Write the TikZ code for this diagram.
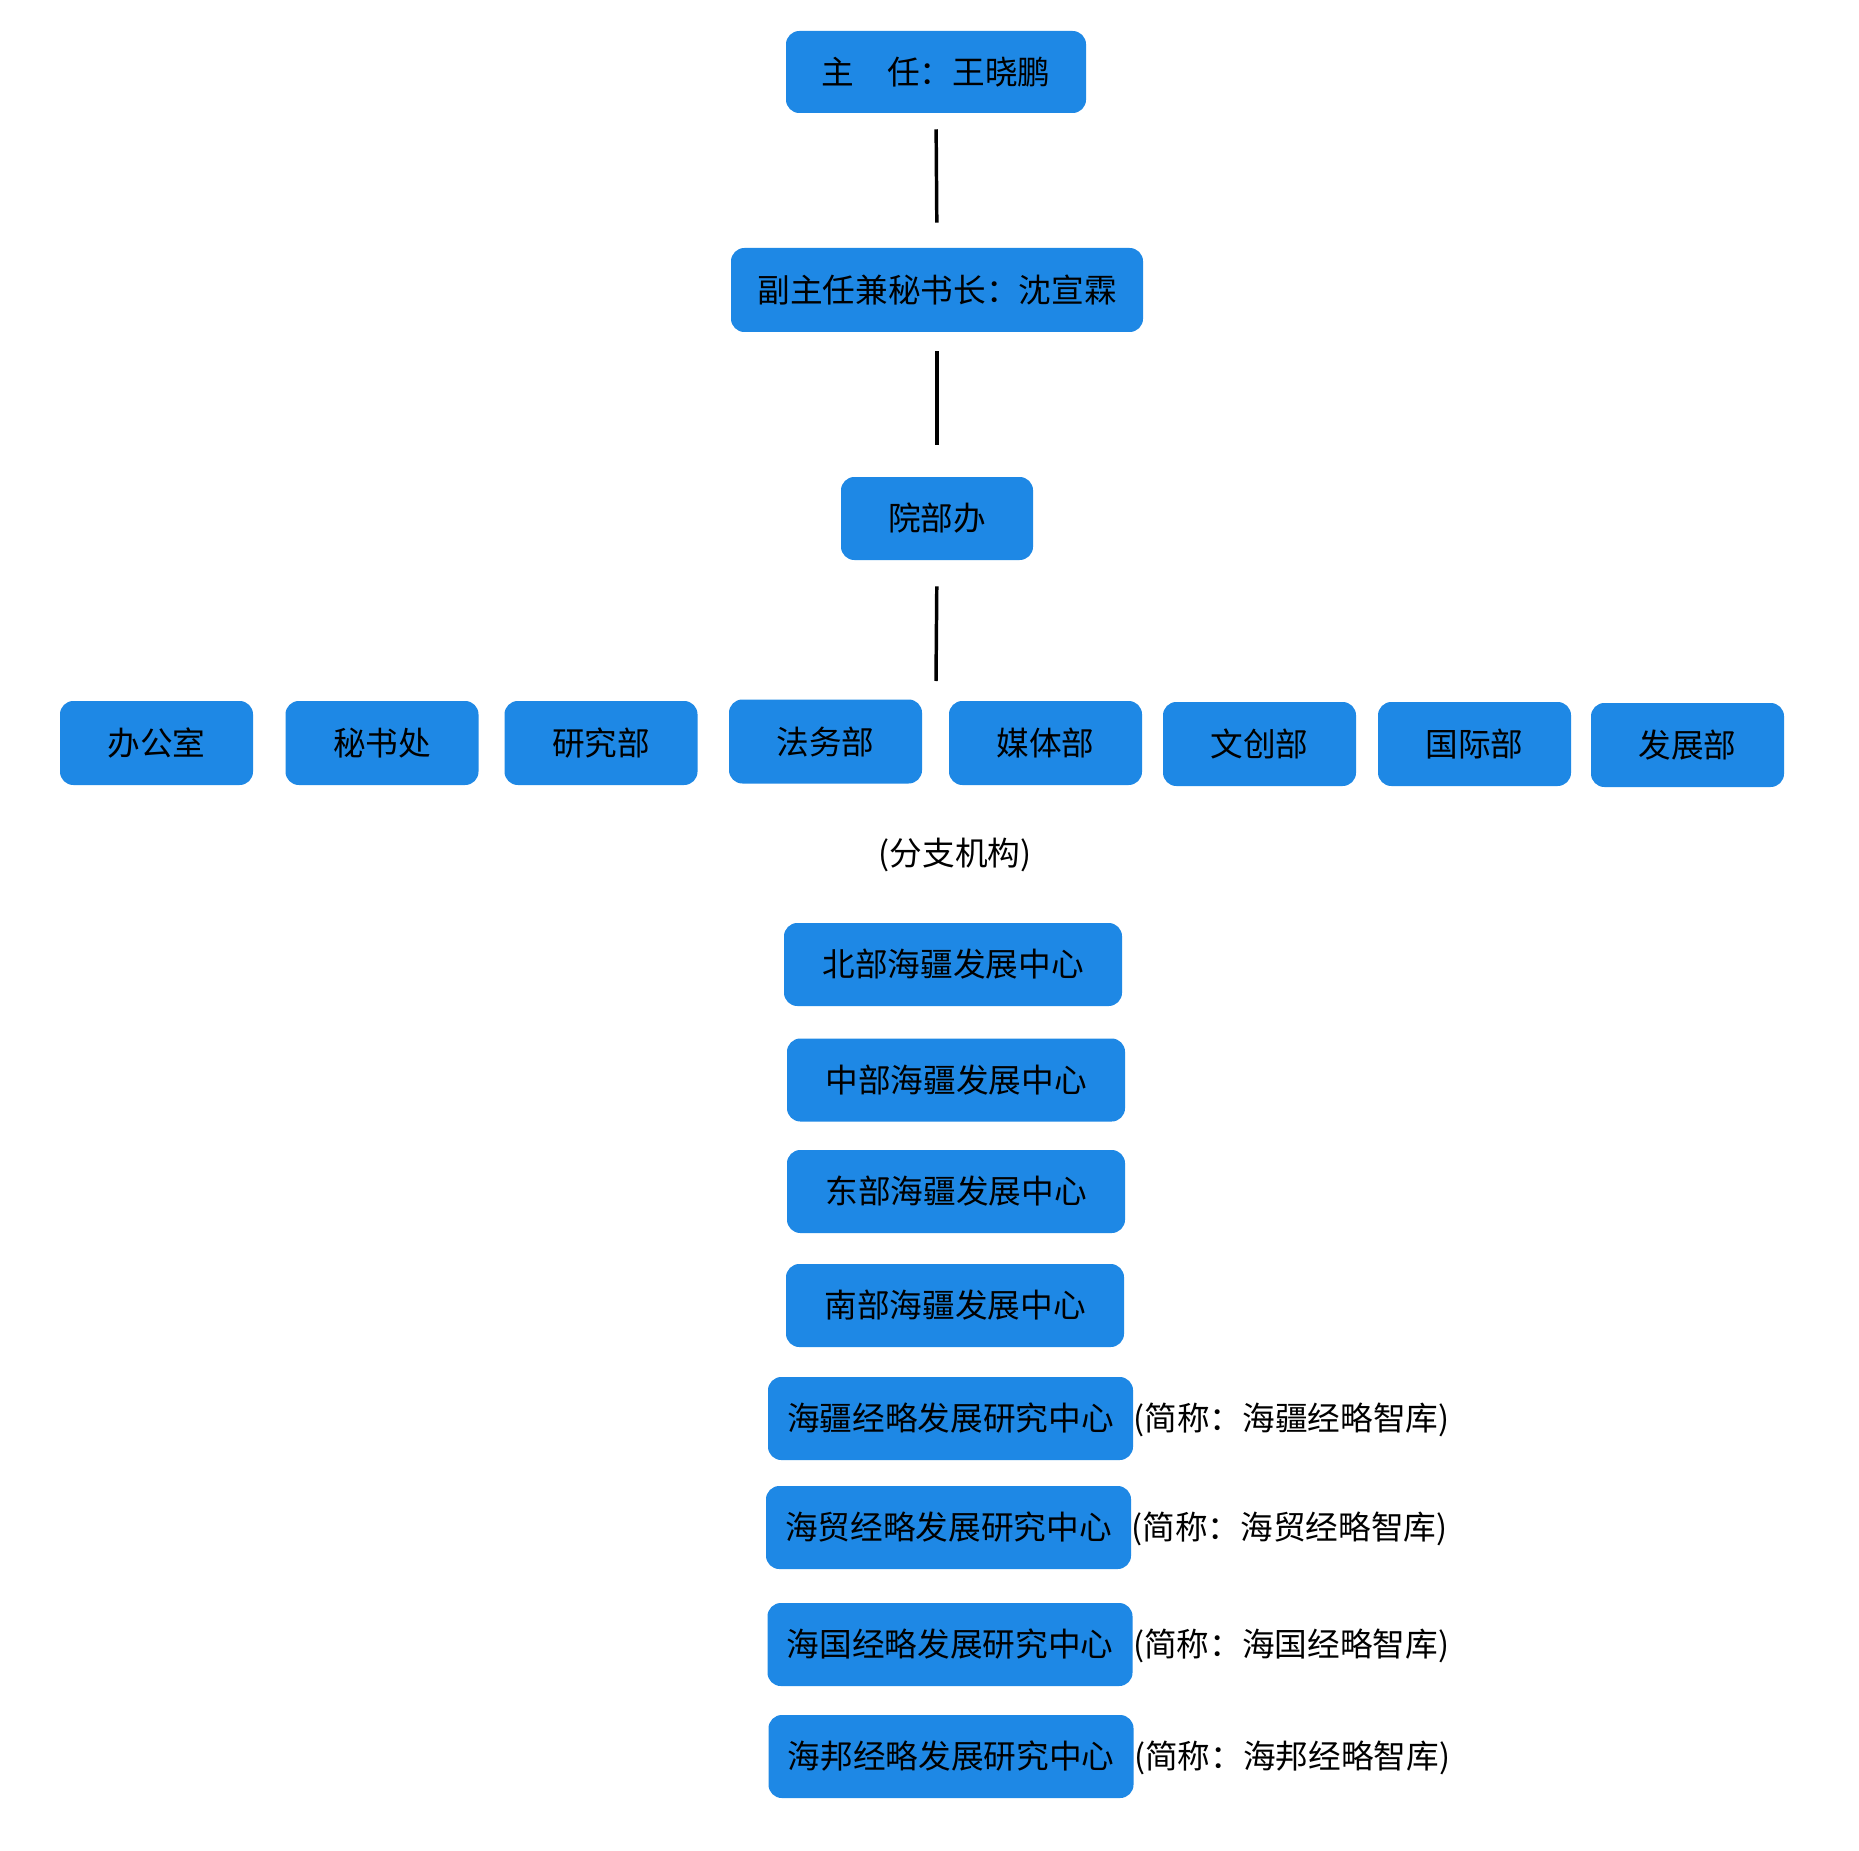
\documentclass[tikz,border=0pt]{standalone}
\usepackage{fontspec}
\setmainfont{Noto Sans CJK SC}
\definecolor{boxblue}{HTML}{1E88E5}
\tikzset{
  orgbox/.style={fill=boxblue, rounded corners=10pt, inner sep=0pt, text=black,
    font=\fontsize{24.5}{28}\selectfont},
  sz/.style 2 args={minimum width=#1*0.75pt, minimum height=#2*0.75pt},
  sidetext/.style={inner sep=0pt, text=black, font=\fontsize{24.5}{28}\selectfont},
  link/.style={line width=2.6pt, draw=black},
}
\begin{document}
\begin{tikzpicture}[x=0.75pt, y=-0.75pt]
\fill[white] (0,0) rectangle (1859,1851);
\useasboundingbox (0,0) rectangle (1859,1851);

\node[orgbox, sz={300}{82}] (zr) at (936,72) {主　任：王晓鹏};
\node[orgbox, sz={412}{84}] (fzr) at (937,290) {副主任兼秘书长：沈宣霖};
\node[orgbox, sz={192}{83}] (ybb) at (937,518.5) {院部办};

\draw[link, shorten <=12pt, shorten >=18.75pt] (zr.south) -- (fzr.north);
\draw[link, shorten <=14.25pt, shorten >=24pt] (fzr.south) -- (ybb.north);
\coordinate (rowtop) at (936,681);
\draw[link, shorten <=19.5pt] (ybb.south) -- (rowtop);

\node[orgbox, sz={193}{84}] (bgs) at (156.5,743) {办公室};
\node[orgbox, sz={193}{84}] (msc) at (382,743) {秘书处};
\node[orgbox, sz={193}{84}] (yjb) at (601,743) {研究部};
\node[orgbox, sz={193}{84}] (fwb) at (825.5,741.5) {法务部};
\node[orgbox, sz={193}{84}] (mtb) at (1045.5,743) {媒体部};
\node[orgbox, sz={193}{84}] (wcb) at (1259.5,744) {文创部};
\node[orgbox, sz={193}{84}] (gjb) at (1474.5,744) {国际部};
\node[orgbox, sz={193}{84}] (fzb) at (1687.5,745) {发展部};

\node[sidetext] (fzjg) at (955,855) {(分支机构)};

\node[orgbox, sz={338}{83}] (bb) at (953,964.5) {北部海疆发展中心};
\node[orgbox, sz={338}{83}] (zb) at (956,1080) {中部海疆发展中心};
\node[orgbox, sz={338}{83}] (db) at (956,1191.5) {东部海疆发展中心};
\node[orgbox, sz={338}{83}] (nb) at (955,1305.5) {南部海疆发展中心};

\node[orgbox, sz={365}{83}] (hj) at (950.5,1418.5) {海疆经略发展研究中心};
\node[orgbox, sz={365}{83}] (hm) at (948.5,1527.5) {海贸经略发展研究中心};
\node[orgbox, sz={365}{83}] (hg) at (950,1644.5) {海国经略发展研究中心};
\node[orgbox, sz={365}{83}] (hb) at (951,1756.5) {海邦经略发展研究中心};

\node[sidetext, anchor=base west] (hjs) at (hj.base east) {(简称：海疆经略智库)};
\node[sidetext, anchor=base west] (hms) at (hm.base east) {(简称：海贸经略智库)};
\node[sidetext, anchor=base west] (hgs) at (hg.base east) {(简称：海国经略智库)};
\node[sidetext, anchor=base west] (hbs) at (hb.base east) {(简称：海邦经略智库)};
\end{tikzpicture}
\end{document}
